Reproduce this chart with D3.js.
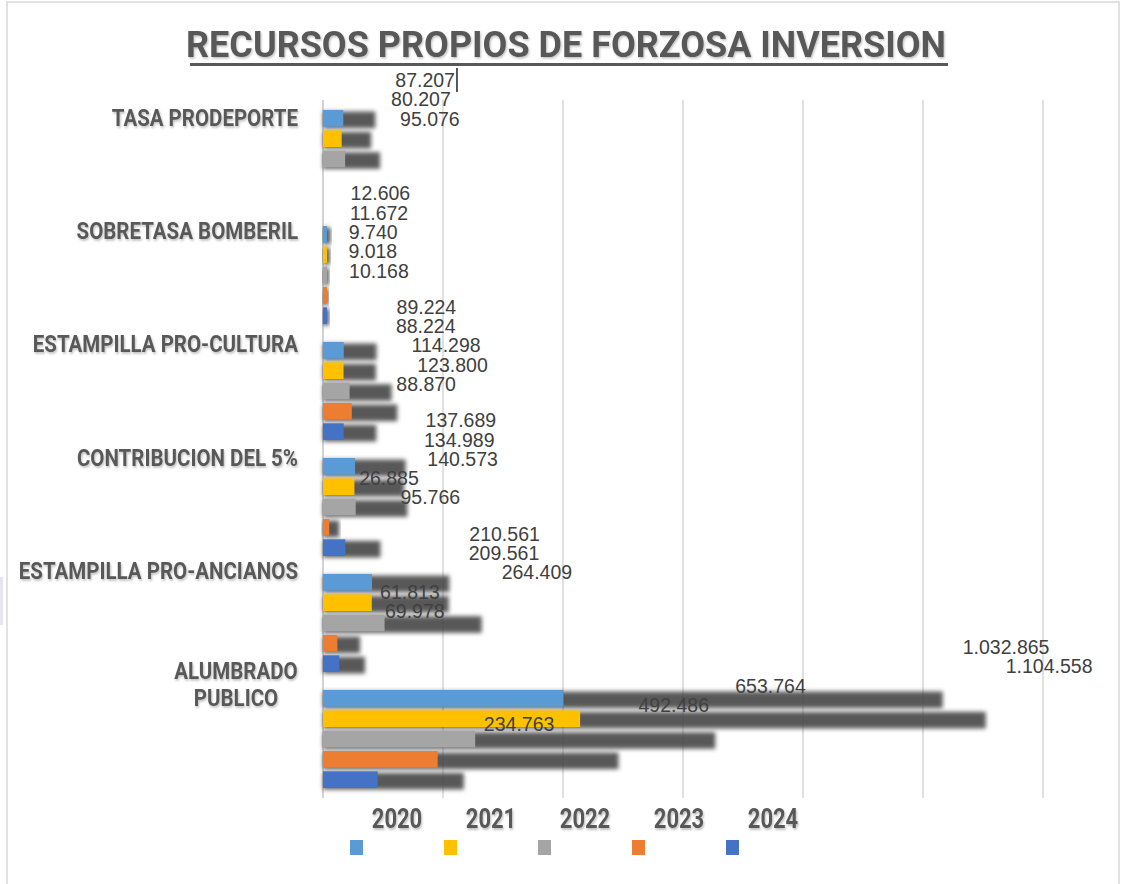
<!DOCTYPE html>
<html>
<head>
<meta charset="utf-8">
<script src="https://cdn.jsdelivr.net/npm/d3@7"></script>
<style>
  html, body { margin: 0; padding: 0; background: #ffffff; }
  svg { display: block; }
</style>
</head>
<body>
<svg id="chart" width="1121" height="884"></svg>
<script>
// ---------- DATA ----------
const categories = ["TASA PRODEPORTE", "SOBRETASA BOMBERIL", "ESTAMPILLA PRO-CULTURA",
                    "CONTRIBUCION DEL 5%", "ESTAMPILLA PRO-ANCIANOS", "ALUMBRADO PUBLICO"];
const categoryLines = [["TASA PRODEPORTE"], ["SOBRETASA BOMBERIL"], ["ESTAMPILLA PRO-CULTURA"],
                       ["CONTRIBUCION DEL 5%"], ["ESTAMPILLA PRO-ANCIANOS"], ["ALUMBRADO", "PUBLICO"]];
const years = ["2020", "2021", "2022", "2023", "2024"];
const values2020 = [87207, 12606, 89224, 137689, 210561, 1032865];
const values2021 = [80207, 11672, 88224, 134989, 209561, 1104558];
const values2022 = [95076, 9740, 114298, 140573, 264409, 653764];
const values2023 = [null, 9018, 123800, 26885, 61813, 492486];
const values2024 = [null, 10168, 88870, 95766, 69978, 234763];
const seriesValues = [values2020, values2021, values2022, values2023, values2024];
const colors = ["#5B9BD5", "#FFC000", "#A5A5A5", "#ED7D31", "#4472C4"];
const xTicks = [0, 200000, 400000, 600000, 800000, 1000000, 1200000];
const titleText = "RECURSOS PROPIOS DE FORZOSA INVERSION";

// ---------- SETUP ----------
const svg = d3.select("#chart");
const fmt = d3.formatLocale({decimal: ",", thousands: ".", grouping: [3], currency: ["$", ""]}).format(",d");
const faceRatio = 0.388;

const defs = svg.append("defs");
defs.append("filter").attr("id", "blur").attr("x", "-10%").attr("y", "-60%").attr("width", "120%").attr("height", "220%")
  .append("feGaussianBlur").attr("stdDeviation", 2);
defs.append("filter").attr("id", "tshadow").attr("x", "-5%").attr("y", "-20%").attr("width", "110%").attr("height", "150%")
  .append("feDropShadow").attr("dx", 1).attr("dy", 1.5).attr("stdDeviation", 1).attr("flood-color", "#000").attr("flood-opacity", 0.25);

// frame
svg.append("rect").attr("x", 7).attr("y", 2).attr("width", 1112).attr("height", 900)
  .attr("fill", "none").attr("stroke", "#d9d9d9").attr("stroke-width", 1.5);
svg.append("rect").attr("x", 0).attr("y", 577).attr("width", 3).attr("height", 48).attr("fill", "#e4e4f2");

// scales
const x = d3.scaleLinear().domain([0, 1200000]).range([323, 1043]);
const y0 = d3.scaleBand().domain(categories).range([100, 796]).padding(0);
const y1 = d3.scaleBand().domain(years).range([10, 108]).paddingInner(0.18).paddingOuter(0);
const labelPos = d3.scalePoint().domain(categories).range([117, 684]);
const legendX = d3.scalePoint().domain(years).range([350, 726]);

// gridlines
svg.append("g").selectAll("line").data(xTicks).join("line")
  .attr("x1", d => x(d)).attr("x2", d => x(d))
  .attr("y1", 100).attr("y2", 798)
  .attr("stroke", d => d === 0 ? "#c8c8c8" : "#d9d9d9").attr("stroke-width", 1.6);

// bars
const barData = [];
categories.forEach((c, ci) => {
  years.forEach((yr, si) => {
    const v = seriesValues[si][ci];
    if (v != null) barData.push({cat: c, year: yr, si, ci, v});
  });
});

const gBars = svg.append("g");
gBars.selectAll("rect.shadow").data(barData).join("rect").attr("class", "shadow")
  .attr("x", x(0))
  .attr("y", d => y0(d.cat) + y1(d.year) + 1.5)
  .attr("width", d => x(d.v) - x(0))
  .attr("height", y1.bandwidth())
  .attr("fill", "#474747").attr("opacity", 0.9)
  .attr("filter", "url(#blur)");
gBars.selectAll("rect.face").data(barData).join("rect").attr("class", "face")
  .attr("x", x(0))
  .attr("y", d => y0(d.cat) + y1(d.year))
  .attr("width", d => {
    const w = x(d.v) - x(0);
    return Math.min(w, Math.max(w * faceRatio, 4));
  })
  .attr("height", y1.bandwidth())
  .attr("fill", d => colors[d.si]);

// category labels
const gCat = svg.append("g");
categories.forEach((c, ci) => {
  const lines = categoryLines[ci];
  const center = labelPos(c);
  const lh = 27;
  const firstBase = center + 8.5 - (lines.length - 1) * lh / 2;
  const blockRight = 298;
  lines.forEach((ln, li) => {
    const g = gCat.append("g")
      .attr("transform", `translate(${lines.length > 1 ? 236 : blockRight},${firstBase + li * lh}) scale(1,1.17)`);
    g.append("text")
      .attr("text-anchor", lines.length > 1 ? "middle" : "end")
      .attr("font-family", "Roboto, 'Liberation Sans', sans-serif")
      .attr("font-weight", "bold").attr("font-size", 20.5)
      .attr("fill", "#595959")
      .attr("filter", "url(#tshadow)")
      .text(ln);
  });
});

// value labels
const gVal = svg.append("g");
barData.forEach(d => {
  const t = gVal.append("text")
    .attr("x", x(d.v) + 20)
    .attr("y", labelPos(d.cat) - 30 + d.si * 19.3)
    .attr("font-family", "'Liberation Sans', Arial, sans-serif")
    .attr("font-size", 19.5)
    .attr("fill", "#404040")
    .text(fmt(d.v));
  if (d.ci === 0 && d.si === 0) {
    const bb = t.node().getBBox();
    gVal.append("line")
      .attr("x1", bb.x + bb.width + 2).attr("x2", bb.x + bb.width + 2)
      .attr("y1", bb.y - 1).attr("y2", bb.y + bb.height + 1)
      .attr("stroke", "#222").attr("stroke-width", 1.5);
  }
});

// title
svg.append("text")
  .attr("x", 566).attr("y", 57)
  .attr("text-anchor", "middle")
  .attr("font-family", "Roboto, 'Liberation Sans', sans-serif")
  .attr("font-weight", "bold").attr("font-size", 36)
  .attr("fill", "#595959")
  .attr("filter", "url(#tshadow)")
  .text(titleText);
svg.append("line").attr("x1", 190).attr("x2", 948).attr("y1", 67.5).attr("y2", 67.5)
  .attr("stroke", "#9a9a9a").attr("stroke-width", 2.5).attr("filter", "url(#blur)").attr("opacity", 0.6);
svg.append("line").attr("x1", 190).attr("x2", 948).attr("y1", 64.5).attr("y2", 64.5)
  .attr("stroke", "#595959").attr("stroke-width", 3);

// legend
const gLeg = svg.append("g");
years.forEach((yr, i) => {
  const lx = legendX(yr);
  gLeg.append("rect").attr("x", lx).attr("y", 840).attr("width", 13).attr("height", 15)
    .attr("fill", colors[i]);
  gLeg.append("g").attr("transform", `translate(${lx + 47},828) scale(1,1.28)`)
    .append("text")
    .attr("text-anchor", "middle")
    .attr("font-family", "Roboto, 'Liberation Sans', sans-serif")
    .attr("font-weight", "bold").attr("font-size", 22)
    .attr("fill", "#595959")
    .attr("filter", "url(#tshadow)")
    .text(yr);
});
</script>
</body>
</html>
